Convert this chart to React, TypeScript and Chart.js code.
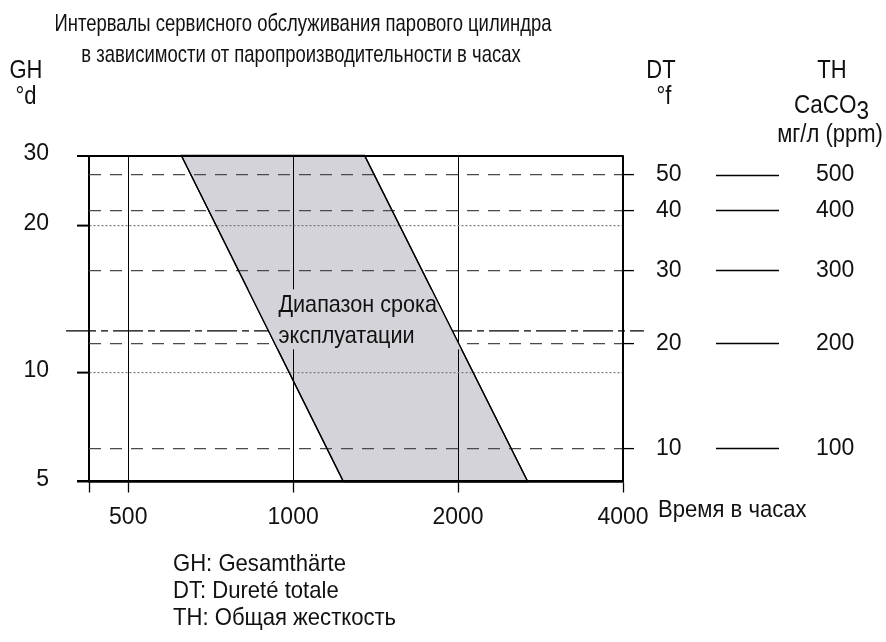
import React, { useEffect, useRef } from 'react';
import { Chart, registerables, LinearScale } from 'chart.js';

Chart.register(...registerables);

// ---------------- data ----------------
const TITLE_LINES = [
  'Интервалы сервисного обслуживания парового цилиндра',
  'в зависимости от паропроизводительности в часах',
];
const LEGEND_LINES = ['GH: Gesamthärte', 'DT: Dureté totale', 'TH: Общая жесткость'];
const BAND_LABEL = ['Диапазон срока', 'эксплуатации'];
const X_TITLE = 'Время в часах';

const HOURS_MIN = 424;
const HOURS_MAX = 4000;
const HOURS_TICKS = [500, 1000, 2000, 4000];
const GH_TICKS = [5, 10, 20, 30];
const DT_TICKS = [10, 20, 30, 40, 50];
const TH_TICKS = [100, 200, 300, 400, 500];

// service-life band (polygon corners): hours and total hardness in °d
const BAND_HOURS = [625, 1235, 2680, 1350];
const BAND_GH = [30, 5, 5, 30];

// dash-dot limit line (°d) and its extent in hours
const LIMIT_HOURS = [385, 4367];
const LIMIT_GH = [12, 12];

// label anchor of the band text: hours, °d
const BAND_LABEL_AT = [940, 13.3];

// calibration of the printed (non-uniform) hardness axis: °d -> share of axis height
const AXIS_GH = [5, 5.6, 10, 11.2, 16.8, 20, 22.4, 28, 30];
const AXIS_SHARE = [0, 0.101, 0.334, 0.424, 0.648, 0.785, 0.831, 0.94, 1];

const DT_TO_GH = 0.56; // 1 °f = 0.56 °d
const TH_TO_GH = 0.056; // 1 mg/l CaCO3 = 0.056 °d

// ---------------- styling ----------------
const FONT_FAMILY = '"Liberation Sans", Arial, Helvetica, sans-serif';
const TEXT = '#111';
const BAND_COLOR = '#d4d3da';
const DASH_COLOR = '#4a4a4a';
const DOT_COLOR = '#7a7a7a';

const font = (size: number) => `${size}px ${FONT_FAMILY}`;

function segIndex(arr: number[], v: number) {
  const n = arr.length;
  if (v <= arr[0]) return 0;
  if (v >= arr[n - 1]) return n - 2;
  let i = 0;
  while (i < n - 2 && v > arr[i + 1]) i++;
  return i;
}

function shareOf(gh: number) {
  const i = segIndex(AXIS_GH, gh);
  const t = Math.log(gh / AXIS_GH[i]) / Math.log(AXIS_GH[i + 1] / AXIS_GH[i]);
  return AXIS_SHARE[i] + t * (AXIS_SHARE[i + 1] - AXIS_SHARE[i]);
}

function ghOf(share: number) {
  const i = segIndex(AXIS_SHARE, share);
  const t = (share - AXIS_SHARE[i]) / (AXIS_SHARE[i + 1] - AXIS_SHARE[i]);
  return AXIS_GH[i] * Math.pow(AXIS_GH[i + 1] / AXIS_GH[i], t);
}

class HardnessScale extends LinearScale {
  static id = 'hardness';
  static defaults = {};
  getPixelForValue(value: any) {
    if (value === null || value === undefined || !isFinite(value) || value <= 0) return NaN;
    const f = (this as any).options.unitFactor || 1;
    return this.getPixelForDecimal(shareOf(value * f));
  }
  getValueForPixel(pixel: number) {
    const f = (this as any).options.unitFactor || 1;
    return ghOf(this.getDecimalForPixel(pixel)) / f;
  }
}
Chart.register(HardnessScale as any);

function bandPath(ctx: CanvasRenderingContext2D, pts: any[]) {
  ctx.beginPath();
  pts.forEach((p, i) => (i ? ctx.lineTo(p.x, p.y) : ctx.moveTo(p.x, p.y)));
  ctx.closePath();
}

// condensed text (the original lettering is a narrow face)
function text(
  ctx: CanvasRenderingContext2D,
  str: string,
  x: number,
  y: number,
  size: number,
  sx: number,
  align: CanvasTextAlign = 'left'
) {
  ctx.save();
  ctx.font = font(size);
  ctx.textAlign = align;
  ctx.textBaseline = 'alphabetic';
  ctx.fillStyle = TEXT;
  ctx.translate(x, y);
  ctx.scale(sx, 1);
  ctx.fillText(str, 0, 0);
  const w = ctx.measureText(str).width * sx;
  ctx.restore();
  return w;
}

const textPlugin = {
  id: 'boilerText',
  beforeDatasetDraw(chart: any, args: any) {
    if (args.index !== 0) return;
    const ctx = chart.ctx as CanvasRenderingContext2D;
    ctx.save();
    bandPath(ctx, args.meta.data);
    ctx.fillStyle = BAND_COLOR;
    ctx.fill();
    ctx.restore();
  },
  afterDraw(chart: any) {
    const ctx = chart.ctx as CanvasRenderingContext2D;
    const { chartArea, scales } = chart;
    const pts = chart.getDatasetMeta(0).data;
    ctx.save();

    // band label on a band-coloured plate
    const bandSize = 24;
    ctx.font = font(bandSize);
    const lx = scales.x.getPixelForValue(BAND_LABEL_AT[0]);
    const ly = scales.y.getPixelForValue(BAND_LABEL_AT[1]);
    const lineGap = 31;
    const m = ctx.measureText(BAND_LABEL[0]);
    const top = ly - m.fontBoundingBoxAscent - 1;
    const bottom = ly + lineGap + m.fontBoundingBoxDescent + 1;
    ctx.save();
    bandPath(ctx, pts);
    ctx.clip();
    ctx.fillStyle = BAND_COLOR;
    ctx.fillRect(chartArea.left, top, chartArea.right - chartArea.left, bottom - top);
    ctx.restore();
    bandPath(ctx, pts);
    ctx.lineWidth = 1.3;
    ctx.strokeStyle = '#000';
    ctx.stroke();
    text(ctx, BAND_LABEL[0], lx, ly, bandSize, 0.9);
    text(ctx, BAND_LABEL[1], lx, ly + lineGap, bandSize, 0.9);

    // title
    text(ctx, TITLE_LINES[0], 303, 31, 24, 0.77, 'center');
    text(ctx, TITLE_LINES[1], 301, 62, 24, 0.77, 'center');

    // axis headers
    text(ctx, 'GH', 26, 78, 25, 0.88, 'center');
    text(ctx, '°d', 26, 104, 25, 0.88, 'center');
    text(ctx, 'DT', 661, 78, 25, 0.88, 'center');
    text(ctx, '°f', 664, 104, 25, 0.88, 'center');
    text(ctx, 'TH', 832, 78, 25, 0.88, 'center');
    const w = text(ctx, 'CaCO', 794, 113, 25, 0.9);
    text(ctx, '3', 794 + w, 119, 25, 0.9);
    text(ctx, 'мг/л (ppm)', 830, 142, 25, 0.88, 'center');

    // x title and legend
    text(ctx, X_TITLE, 658, 517, 24, 0.92);
    LEGEND_LINES.forEach((t, i) => text(ctx, t, 173, 571 + i * 27, 24, 0.92));
    ctx.restore();
  },
};

const tickFont = { family: FONT_FAMILY, size: 23 };

function buildConfig(): any {
  const band = BAND_HOURS.map((h, i) => ({ x: h, y: BAND_GH[i] }));
  band.push({ ...band[0] });
  const limit = LIMIT_HOURS.map((h, i) => ({ x: h, y: LIMIT_GH[i] }));
  const isEdge = (v: number) => v === GH_TICKS[0] || v === GH_TICKS[GH_TICKS.length - 1];

  return {
    type: 'scatter',
    data: {
      datasets: [
        {
          label: 'band',
          data: band,
          showLine: true,
          borderColor: '#000',
          borderWidth: 1.3,
          backgroundColor: BAND_COLOR,
          pointRadius: 0,
          fill: false,
        },
        {
          label: 'limit',
          data: limit,
          showLine: true,
          borderColor: '#000',
          borderWidth: 1.2,
          borderDash: [30, 5, 7, 5],
          pointRadius: 0,
          clip: false,
          fill: false,
        },
      ],
    },
    options: {
      animation: false,
      responsive: false,
      events: [],
      layout: { padding: { top: 155.5, bottom: 100.5, left: 0, right: 0 } },
      plugins: {
        legend: { display: false },
        tooltip: { enabled: false },
        title: { display: false },
      },
      scales: {
        x: {
          type: 'logarithmic',
          position: 'bottom',
          min: HOURS_MIN,
          max: HOURS_MAX,
          afterBuildTicks: (s: any) => {
            s.ticks = [HOURS_MIN, ...HOURS_TICKS].map((v) => ({ value: v }));
          },
          afterFit: (s: any) => {
            s.height = 60;
          },
          ticks: {
            autoSkip: false,
            maxRotation: 0,
            minRotation: 0,
            padding: 11,
            color: TEXT,
            font: tickFont,
            callback: (v: any) => (HOURS_TICKS.includes(v) ? String(v) : ''),
          },
          grid: { color: '#000', lineWidth: 1, tickLength: 11, tickColor: '#000', tickWidth: 1.3, z: 1 },
          border: { color: '#000', width: 2.5, z: 1 },
        },
        y: {
          type: 'hardness',
          position: 'left',
          min: 5,
          max: 30,
          unitFactor: 1,
          afterBuildTicks: (s: any) => {
            s.ticks = GH_TICKS.map((v) => ({ value: v }));
          },
          afterFit: (s: any) => {
            s.width = 89;
          },
          ticks: { padding: 28, labelOffset: -2, color: TEXT, font: tickFont, callback: (v: any) => String(v) },
          grid: {
            z: 1,
            tickLength: 12,
            color: (c: any) => (c.tick && isEdge(c.tick.value) ? '#000' : DOT_COLOR),
            lineWidth: (c: any) =>
              c.tick && c.tick.value === GH_TICKS[0] ? 2.5 : c.tick && isEdge(c.tick.value) ? 2 : 1.2,
            tickColor: '#000',
            tickWidth: (c: any) => (c.tick && c.tick.value === GH_TICKS[0] ? 2.5 : 2),
          },
          border: {
            z: 1,
            color: '#000',
            width: 1.5,
            dash: (c: any) => (c.tick && !isEdge(c.tick.value) ? [2, 2] : []),
          },
        },
        yDT: {
          type: 'hardness',
          position: 'right',
          weight: 0,
          min: 5 / DT_TO_GH,
          max: 30 / DT_TO_GH,
          unitFactor: DT_TO_GH,
          afterBuildTicks: (s: any) => {
            s.ticks = DT_TICKS.map((v) => ({ value: v }));
          },
          afterFit: (s: any) => {
            s.width = 93;
          },
          ticks: { padding: 22, color: TEXT, font: tickFont, callback: (v: any) => String(v) },
          grid: {
            z: 1,
            color: DASH_COLOR,
            lineWidth: 1.2,
            tickLength: 11,
            tickColor: '#000',
            tickWidth: 1.3,
          },
          border: {
            z: 1,
            color: '#000',
            width: 1.5,
            dash: (c: any) => (c.tick ? [12, 9] : []),
          },
        },
        yTH: {
          type: 'hardness',
          position: 'right',
          weight: 1,
          min: 5 / TH_TO_GH,
          max: 30 / TH_TO_GH,
          unitFactor: TH_TO_GH,
          afterBuildTicks: (s: any) => {
            s.ticks = TH_TICKS.map((v) => ({ value: v }));
          },
          afterFit: (s: any) => {
            s.width = 170;
          },
          ticks: { padding: 37, color: TEXT, font: tickFont, callback: (v: any) => String(v) },
          grid: {
            z: 1,
            drawOnChartArea: false,
            drawTicks: true,
            tickLength: 63,
            tickColor: '#000',
            tickWidth: 1.3,
          },
          border: { display: false },
        },
      },
    },
    plugins: [textPlugin],
  };
}

export default function App() {
  const ref = useRef<HTMLCanvasElement>(null);
  useEffect(() => {
    const canvas = ref.current;
    if (!canvas) return;
    const chart = new Chart(canvas, buildConfig());
    return () => chart.destroy();
  }, []);
  return (
    <div style={{ position: 'fixed', left: 0, top: 0, width: 886, height: 642, background: '#fff' }}>
      <canvas ref={ref} width={886} height={642} style={{ display: 'block', width: 886, height: 642 }} />
    </div>
  );
}
